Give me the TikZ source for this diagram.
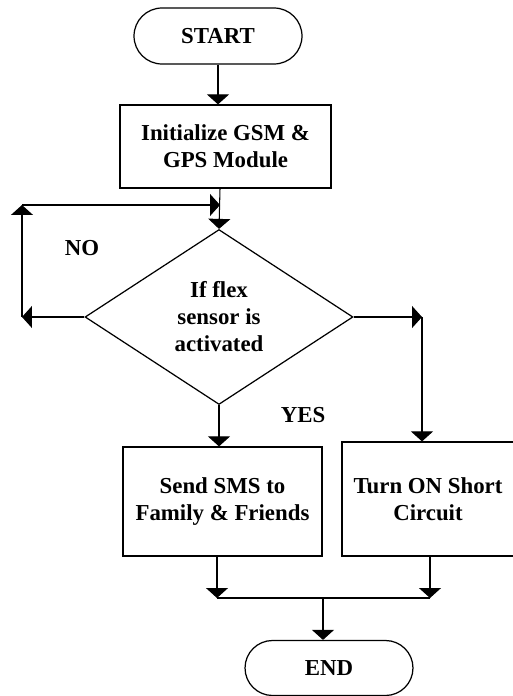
\documentclass[tikz,border=0pt]{standalone}
\usepackage{fontspec}
\setmainfont{Liberation Serif}
\usetikzlibrary{shapes.misc,shapes.geometric,arrows.meta}

\tikzset{
  term/.style={draw, rounded rectangle, line width=0.7pt, minimum width=3.36cm, minimum height=1.1cm, inner sep=0pt},
  block/.style={draw, rectangle, line width=0.7pt, align=center, inner sep=0pt},
  decide/.style={draw, diamond, line width=0.7pt, align=center, inner sep=0pt, minimum width=5.36cm, minimum height=3.5cm},
  flow/.style={-{Triangle[width=0.44cm,length=0.2cm]}, line width=0.6pt},
  wire/.style={line width=0.6pt}
}

\begin{document}
\begin{tikzpicture}[x=0.02cm, y=-0.02cm, font=\fontsize{13}{15.4}\selectfont\bfseries]
 \useasboundingbox (0,0) rectangle (512,696);

 \node[term, minimum height=1.12cm] (start) at (218,36) {START};
 \node[block, minimum width=4.22cm, minimum height=1.66cm] (init) at (225.5,146.5) {Initialize GSM \&\\GPS Module};
 \node[decide] (flex) at (219,317) {If flex\\sensor is\\activated};
 \node[block, minimum width=3.98cm, minimum height=2.18cm] (sms) at (222.5,501.5) {Send SMS to\\Family \& Friends};
 \node[block, minimum width=3.44cm, minimum height=2.28cm] (circuit) at (428,499) {Turn ON Short\\Circuit};
 \node[term] (stop) at (329,668) {END};

 \node (no) at (82,248) {NO};
 \node (yes) at (303,415) {YES};

 % loop back when sensor is not active
 \coordinate (loopbot) at (22,317);
 \coordinate (looptop) at (22,205);
 \coordinate (loopin) at (220,205);
 % branch to the short circuit
 \coordinate (turn) at (422,317);
 % joining lines above END
 \coordinate (joinL) at (217,598);
 \coordinate (joinR) at (430,598);
 \coordinate (join) at (323,598);

 \draw[flow] (start.south) -- (start.south |- init.north);
 \draw[flow] (init.south -| loopin) -- (flex.north);
 \draw[flow] (flex.west) -- (loopbot);
 \draw[flow] (loopbot) -- (looptop);
 \draw[flow] (looptop) -- (loopin);
 \draw[flow] (flex.east) -- (turn);
 \draw[flow] (turn) -- (turn |- circuit.north);
 \draw[flow] (flex.south) -- (flex.south |- sms.north);
 \draw[flow] (joinL |- sms.south) -- (joinL);
 \draw[flow] (joinR |- circuit.south) -- (joinR);
 \draw[wire] (joinL) -- (joinR);
 \draw[flow] (join) -- (stop.north -| join);

\end{tikzpicture}
\end{document}
